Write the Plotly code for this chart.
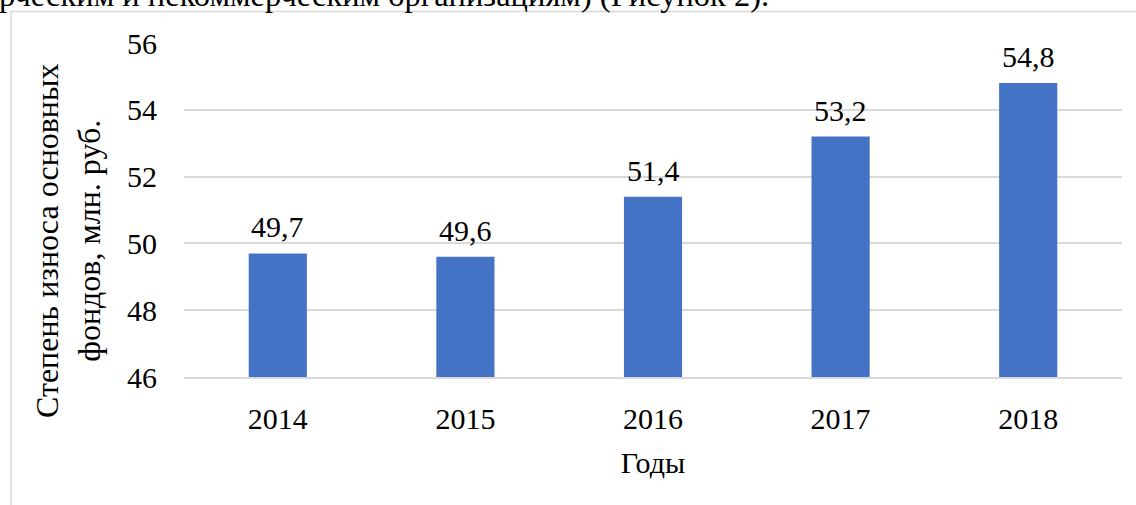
import plotly.graph_objects as go

years = ["2014", "2015", "2016", "2017", "2018"]
values = [49.7, 49.6, 51.4, 53.2, 54.8]
y_ticks = [46, 48, 50, 52, 54, 56]
y_title = "Степень износа основных<br>фондов, млн. руб."
x_title = "Годы"
top_text = "рческим и некоммерческим организациям) (Рисунок 2)."

W, H = 1136, 505
ML, MR, MT, MB = 184, 14, 43, 128
PW, PH = W - ML - MR, H - MT - MB

def px_x(p):
    return (p - ML) / PW

def px_y(p):
    return 1 - (p - MT) / PH

FONT = "Liberation Serif, Times New Roman, serif"
BLUE = "#4472C4"
GRID = "#d9d9d9"

fig = go.Figure()
fig.add_trace(go.Bar(x=years, y=values, width=0.31, marker=dict(color=BLUE, line=dict(width=0)),
                     hoverinfo="x+y"))

annotations = []
for i, v in enumerate(values):
    annotations.append(dict(x=i, y=v, xref="x", yref="y", text=f"{v:.1f}".replace(".", ","),
                            showarrow=False, yanchor="bottom", yshift=8,
                            font=dict(family=FONT, size=30, color="#000")))
annotations.append(dict(x=px_x(68), y=px_y(241), xref="paper", yref="paper", text=y_title,
                        textangle=-90, showarrow=False, xanchor="center", yanchor="middle",
                        font=dict(family=FONT, size=32, color="#000")))
annotations.append(dict(x=px_x(-3), y=px_y(15), xref="paper", yref="paper", text=top_text,
                        showarrow=False, xanchor="left", yanchor="bottom",
                        font=dict(family=FONT, size=32.5, color="#000")))

fig.update_layout(
    width=W, height=H,
    margin=dict(l=ML, r=MR, t=MT, b=MB, pad=0),
    paper_bgcolor="white", plot_bgcolor="white",
    showlegend=False,
    font=dict(family=FONT, size=30, color="#000"),
    annotations=annotations,
    shapes=[dict(type="rect", xref="paper", yref="paper", x0=px_x(11), x1=px_x(1145),
                 y0=px_y(515), y1=px_y(11.5), line=dict(color=GRID, width=1.5), layer="below")],
    xaxis=dict(type="category", range=[-0.5, len(years) - 0.5], showgrid=False, showline=True,
               linecolor=GRID, linewidth=1.5,
               ticks="", tickfont=dict(family=FONT, size=30, color="#000"), ticklabelstandoff=14,
               title=dict(text=x_title, font=dict(family=FONT, size=30, color="#000"), standoff=18)),
    yaxis=dict(range=[46, 56], tickvals=y_ticks, showgrid=True, gridcolor=GRID, gridwidth=1.5,
               zeroline=False, showline=False, ticks="", ticklabelstandoff=26,
               tickfont=dict(family=FONT, size=30, color="#000")),
)

fig.write_html("out.html", config={"displayModeBar": False},
               post_script="document.body.style.margin='0';")
